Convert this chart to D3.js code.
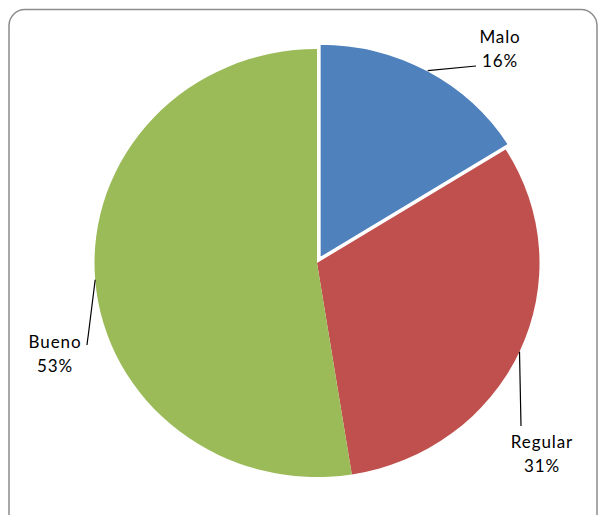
<!DOCTYPE html>
<html><head><meta charset="utf-8">
<script src="https://cdn.jsdelivr.net/npm/d3@7"></script>
<style>body{margin:0;background:#fff}svg{display:block}</style>
</head><body>
<svg id="c" width="598" height="515"></svg>
<script>
const categories = ["Malo", "Regular", "Bueno"];
const values = [16.1, 31.4, 52.5];
const colors = ["#4F81BD", "#C0504D", "#9BBB59"];
const percentLabels = ["16%", "31%", "53%"];

const svg = d3.select("#c");
svg.append("rect").attr("x", 9).attr("y", 9.5).attr("width", 588).attr("height", 520)
  .attr("rx", 16).attr("fill", "#fff").attr("stroke", "#8c8c8c").attr("stroke-width", 1.5);

const cx = 317, cy = 263, r = 222.5, sy = 0.962;
const pie = d3.pie().sort(null).value(d => d)(values);
const arc = d3.arc().innerRadius(0).outerRadius(r);
const explode = [6, 0, 0];

const g = svg.append("g").attr("transform", `translate(${cx},${cy}) scale(1,${sy})`);
g.selectAll("path").data(pie).join("path")
  .attr("d", arc)
  .attr("fill", (d, i) => colors[i])
  .attr("stroke", (d, i) => explode[i] ? "#fff" : "none")
  .attr("stroke-width", 1.5)
  .attr("transform", (d, i) => {
    const a = (d.startAngle + d.endAngle) / 2;
    return `translate(${explode[i] * Math.sin(a)},${-explode[i] * Math.cos(a)})`;
  });

// label anchors (end of leader line) and text positions
const leaderEnd = [[476, 66], [521, 426], [87, 345]];
const textPos = [[500, 43], [542, 448], [55, 348]];

pie.forEach((d, i) => {
  const a = (d.startAngle + d.endAngle) / 2;
  const sx = cx + (r + explode[i]) * Math.sin(a);
  const syy = cy - (r + explode[i]) * Math.cos(a) * sy;
  svg.append("line").attr("x1", sx).attr("y1", syy)
    .attr("x2", leaderEnd[i][0]).attr("y2", leaderEnd[i][1])
    .attr("stroke", "#000").attr("stroke-width", 1.2);
  const t = svg.append("text").attr("x", textPos[i][0]).attr("y", textPos[i][1])
    .attr("text-anchor", "middle").attr("font-family", "Lato, sans-serif")
    .attr("font-size", 17).attr("letter-spacing", 0.9).attr("fill", "#000");
  t.append("tspan").attr("x", textPos[i][0]).text(categories[i]);
  t.append("tspan").attr("x", textPos[i][0]).attr("dy", 23.5).text(percentLabels[i]);
});
</script>
</body></html>
